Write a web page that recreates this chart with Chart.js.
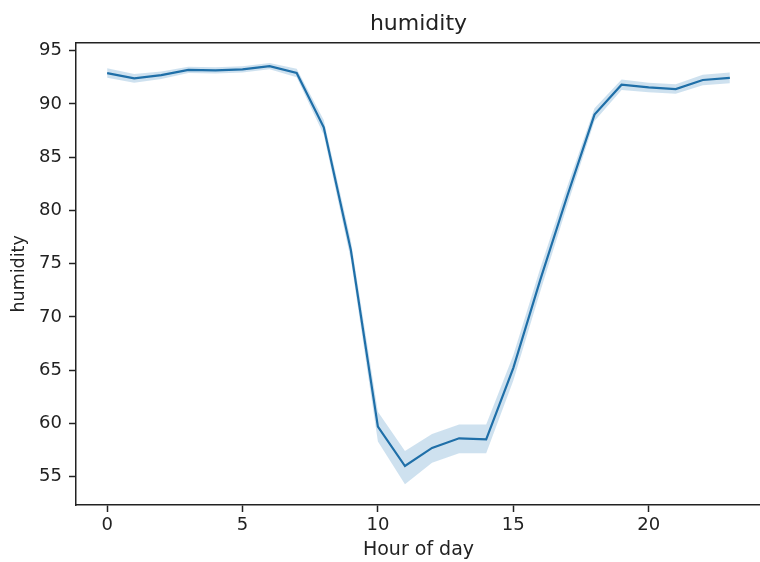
<!DOCTYPE html>
<html>
<head>
<meta charset="utf-8">
<script src="https://cdn.jsdelivr.net/npm/chart.js@4.4.1/dist/chart.umd.min.js"></script>
<style>
  html, body { margin: 0; padding: 0; background: #fff; overflow: hidden; }
  #wrap { width: 760px; height: 562px; overflow: hidden; }
</style>
</head>
<body>
<div id="wrap"><canvas id="chart" width="763" height="562"></canvas></div>
<script>
// humidity by hour of day (mean + 95% band)
const hours = [0, 1, 2, 3, 4, 5, 6, 7, 8, 9, 10, 11, 12, 13, 14, 15, 16, 17, 18, 19, 20, 21, 22, 23]
const humidity = [92.9, 92.4, 92.7, 93.2, 93.15, 93.25, 93.55, 92.9, 87.8, 76.3, 59.7, 56.0, 57.7, 58.6, 58.5, 65.2, 73.5, 81.4, 89.0, 91.8, 91.55, 91.4, 92.25, 92.45]
const ciLow = [92.45, 92.0, 92.35, 92.9, 92.85, 92.95, 93.25, 92.5, 87.1, 75.4, 58.3, 54.3, 56.3, 57.2, 57.2, 64.0, 72.4, 80.5, 88.4, 91.3, 91.1, 90.95, 91.75, 91.95]
const ciHigh = [93.35, 92.8, 93.05, 93.5, 93.45, 93.55, 93.85, 93.3, 88.5, 77.2, 61.1, 57.4, 59.0, 59.9, 59.9, 66.4, 74.6, 82.3, 89.6, 92.3, 92.0, 91.85, 92.75, 92.95]
const xTicks = [0, 5, 10, 15, 20]
const yTicks = [55, 60, 65, 70, 75, 80, 85, 90, 95]

const pts = (arr) => hours.map((h, i) => ({ x: h, y: arr[i] }))
const FONT = "'DejaVu Sans', sans-serif"
const INK = '#222'
const X_MIN = -1.15, X_MAX = 24.15

new Chart(document.getElementById('chart'), {
    type: 'line',
    data: {
        datasets: [
            {
                label: 'humidity',
                data: pts(humidity),
                borderColor: '#1f6fa8',
                borderWidth: 2.2,
                pointRadius: 0,
                fill: false,
                tension: 0,
            },
            {
                label: 'upper',
                data: pts(ciHigh),
                borderWidth: 0,
                pointRadius: 0,
                backgroundColor: 'rgba(31,119,180,0.22)',
                fill: '+1',
                tension: 0,
            },
            {
                label: 'lower',
                data: pts(ciLow),
                borderWidth: 0,
                pointRadius: 0,
                fill: false,
                tension: 0,
            },
        ]
    },
    options: {
        responsive: false,
        animation: false,
        layout: { padding: { left: 0, right: 2, top: 0, bottom: 0 } },
        plugins: {
            legend: { display: false },
            tooltip: { enabled: false },
        },
        scales: {
            x: {
                type: 'linear',
                min: X_MIN,
                max: X_MAX,
                afterBuildTicks: (s) => { s.ticks = xTicks.map(v => ({ value: v })) },
                afterFit: (s) => { s.height = 57 },
                grid: { drawOnChartArea: false, drawTicks: true, tickLength: 7, tickWidth: 1.5, tickColor: INK },
                border: { display: true, color: INK, width: 1.5 },
                ticks: { color: INK, padding: 3, maxRotation: 0, font: { family: FONT, size: 18 } },
                title: {
                    display: true,
                    text: 'Hour of day',
                    color: INK,
                    font: { family: FONT, size: 19 },
                    padding: { top: 0, bottom: 1 },
                },
            },
            // top axis only carries the frame line and the title, centred over the plot
            xTop: {
                type: 'linear',
                position: 'top',
                min: X_MIN,
                max: X_MAX,
                afterFit: (s) => { s.height = 42.7 },
                grid: { drawOnChartArea: false, drawTicks: false },
                border: { display: true, color: INK, width: 1.5 },
                ticks: { display: false },
                title: {
                    display: true,
                    text: 'humidity',
                    color: INK,
                    font: { family: FONT, size: 22 },
                    padding: { top: 11, bottom: 0 },
                },
            },
            y: {
                min: 52.34,
                max: 95.75,
                afterBuildTicks: (s) => { s.ticks = yTicks.map(v => ({ value: v })) },
                afterFit: (s) => { s.width = 76 },
                grid: { drawOnChartArea: false, drawTicks: true, tickLength: 7, tickWidth: 1.5, tickColor: INK },
                border: { display: true, color: INK, width: 1.5 },
                ticks: { color: INK, padding: 7, font: { family: FONT, size: 18 } },
                title: {
                    display: true,
                    text: 'humidity',
                    color: INK,
                    font: { family: FONT, size: 17.5 },
                    padding: { top: 9, bottom: 0 },
                },
            },
        },
    },
})
</script>
</body>
</html>
